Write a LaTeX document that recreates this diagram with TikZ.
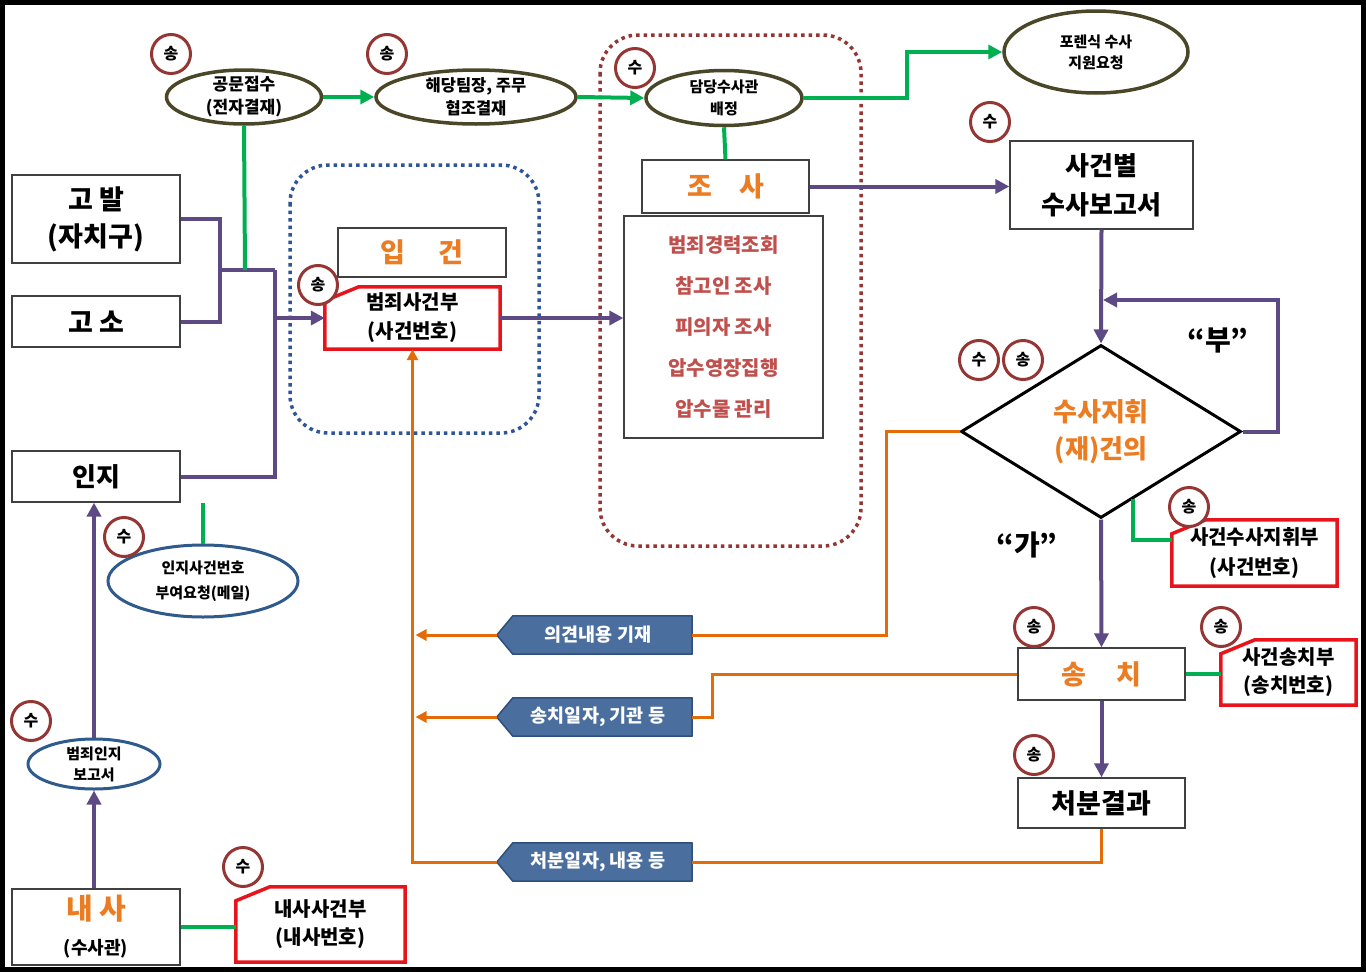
\documentclass[tikz,border=0pt]{standalone}
\usepackage{fontspec}
\setmainfont{Noto Sans CJK KR}
\usetikzlibrary{arrows.meta,calc,shapes.geometric}
\definecolor{purp}{HTML}{5D4A85}
\definecolor{grn}{HTML}{00B050}
\definecolor{orng}{HTML}{E36C09}
\definecolor{otxt}{HTML}{EC7C22}
\definecolor{lred}{HTML}{C0504D}
\definecolor{tagblue}{HTML}{4A6E9E}
\definecolor{tagedge}{HTML}{2F4F7A}
\definecolor{olive}{HTML}{4A4628}
\definecolor{eblue}{HTML}{2E5A8C}
\definecolor{mred}{HTML}{943634}
\definecolor{rbox}{HTML}{E8141B}
\definecolor{dblue}{HTML}{2E5597}
\newcommand\fsz[2]{\fontsize{#1}{#2}\selectfont}
\newcommand\rtagout[1]{\draw[redline] ($(#1.north west)+(0,14)$) -- ($(#1.north west)+(34,0)$) -- (#1.north east) -- (#1.south east) -- (#1.south west) -- cycle;}
\newcommand\btagout[1]{\draw[bluetagline] (#1.north east) -- (#1.north west) -- (#1tip) -- (#1.south west) -- (#1.south east) -- cycle;}
\tikzset{
  plainbox/.style={draw=black!75, line width=1.3pt, fill=white, inner sep=0pt, align=center, font=\bfseries\fsz{27}{37}},
  redtag/.style={draw=none, inner sep=0pt, align=center, font=\bfseries\fsz{20}{29}},
  redline/.style={draw=rbox, line width=3.5pt, fill=white, line join=miter},
  ovalolive/.style={ellipse, draw=olive, line width=3.5pt, fill=white, inner sep=0pt},
  ovalblue/.style={ellipse, draw=eblue, line width=3pt, fill=white, inner sep=0pt},
  ovaltext/.style={align=center, inner sep=0pt, font=\bfseries\fsz{15}{22}},
  bluetag/.style={draw=none, inner sep=0pt, align=center, text=white, font=\bfseries\fsz{18.5}{24}, minimum width=179, minimum height=38},
  bluetagline/.style={fill=tagblue, draw=tagedge, line width=1.5pt, line join=round},
  marker/.style={circle, draw=mred, line width=3pt, fill=white, minimum size=39, inner sep=0pt, font=\bfseries\fsz{16}{18}},
  purline/.style={draw=purp, line width=4pt, line join=miter},
  purarrow/.style={purline, -{Triangle[length=14pt,width=14pt]}},
  grline/.style={draw=grn, line width=4pt, line join=miter},
  grarrow/.style={grline, -{Triangle[length=14pt,width=14pt]}},
  orline/.style={draw=orng, line width=3pt, line join=miter},
  orarrow/.style={orline, -{Triangle[length=11pt,width=11pt]}},
  reddots/.style={draw=mred, line width=3.5pt, dash pattern=on 3.5pt off 4pt, rounded corners=38pt},
  bluedots/.style={draw=dblue, line width=3.5pt, dash pattern=on 3.5pt off 4pt, rounded corners=38pt},
}
\begin{document}
\begin{tikzpicture}[x=1pt,y=-1pt]
\fill[white] (0,0) rectangle (1366,972);
\useasboundingbox (0,0) rectangle (1366,972);

% dotted groups
\draw[reddots] (600,35) rectangle (861,546);
\draw[bluedots] (290,165) rectangle (539,433);

% left column boxes
\node[plainbox, minimum width=168, minimum height=88] (gobal) at (96,219) {고 발\\(자치구)};
\node[plainbox, minimum width=168, minimum height=51] (goso) at (96,321.5) {고 소};
\node[plainbox, minimum width=168, minimum height=51, font=\bfseries\fsz{26}{30}] (inji) at (96,476.5) {인지};
\node[plainbox, minimum width=168, minimum height=76] (naesa) at (96,927) {{\color{otxt}\fsz{29}{32}내 사}\\[-2pt]{\fsz{18}{24}(수사관)}};

% top ellipses
\node[ovalolive, minimum width=155, minimum height=54] (gongmun) at (244,97) {};
\node[ovaltext, font=\bfseries\fsz{17}{23}] (gongmunt) at (gongmun) {공문접수\\(전자결재)};
\node[ovalolive, minimum width=200, minimum height=54] (haedang) at (476,97) {};
\node[ovaltext, font=\bfseries\fsz{16.5}{23}] (haedangt) at (haedang) {해당팀장, 주무\\협조결재};
\node[ovalolive, minimum width=156, minimum height=55] (damdang) at (724,98) {};
\node[ovaltext] (damdangt) at (damdang) {담당수사관\\배정};
\node[ovalolive, minimum width=184, minimum height=82] (forensic) at (1096,52) {};
\node[ovaltext, font=\bfseries\fsz{15}{21}] (forensict) at (forensic) {포렌식 수사\\지원요청};

% blue ellipses
\node[ovalblue, minimum width=190, minimum height=72] (injireq) at (203,581) {};
\node[ovaltext, font=\bfseries\fsz{15}{25}] (injireqt) at (injireq) {인지사건번호\\부여요청(메일)};
\node[ovalblue, minimum width=132, minimum height=50] (bj) at (94,764) {};
\node[ovaltext, font=\bfseries\fsz{15}{21}] (bjt) at (bj) {범죄인지\\보고서};

% middle
\node[plainbox, minimum width=168, minimum height=49, text=otxt] (ipgeon) at (422,252.5) {입\hspace{1.2em}건};
\node[redtag, minimum width=175, minimum height=62] (crime) at (412.5,318) {};
\rtagout{crime}
\node[redtag] (crimet) at (crime) {범죄사건부\\(사건번호)};

\node[plainbox, minimum width=167, minimum height=53, text=otxt] (josa) at (725.5,186.5) {조\hspace{1em}사};
\node[plainbox, minimum width=199, minimum height=222, text=lred, font=\bfseries\fsz{20}{41}] (list) at (723.5,327) {범죄경력조회\\참고인 조사\\피의자 조사\\압수영장집행\\압수물 관리};

% right column
\node[plainbox, minimum width=183, minimum height=88, font=\bfseries\fsz{26}{39}] (report) at (1101.5,185) {사건별\\수사보고서};
\node[diamond, draw=black, line width=3pt, fill=white, minimum width=280, minimum height=173, inner sep=0pt, aspect=1.62] (dia) at (1101,431.5) {};
\node[ovaltext, text=otxt, font=\bfseries\fsz{26}{37}] (diat) at (dia) {수사지휘\\(재)건의};
\node[redtag, minimum width=165, minimum height=66] (cmd) at (1254.5,553) {};
\rtagout{cmd}
\node[redtag, font=\bfseries\fsz{20}{30}] (cmdt) at (cmd) {사건수사지휘부\\(사건번호)};
\node[plainbox, minimum width=167, minimum height=52, text=otxt] (songchi) at (1101.5,674) {송\hspace{1.1em}치};
\node[redtag, minimum width=135, minimum height=65] (songchibu) at (1288.5,672.5) {};
\rtagout{songchibu}
\node[redtag, font=\bfseries\fsz{20}{28}] (songchibut) at (songchibu) {사건송치부\\(송치번호)};
\node[plainbox, minimum width=167, minimum height=50] (result) at (1101.5,803) {처분결과};

% bottom red tag
\node[redtag, minimum width=169, minimum height=75] (naesabu) at (320.5,924.5) {};
\rtagout{naesabu}
\node[redtag, font=\bfseries\fsz{20}{28}] (naesabut) at (naesabu) {내사사건부\\(내사번호)};

% blue tags
\node[bluetag] (tagA) at (602.5,635) {};
\coordinate (tagAtip) at ($(tagA.west)+(-16,0)$);
\btagout{tagA}
\node[bluetag] (tagAt) at (598,635) {의견내용 기재};
\node[bluetag] (tagB) at (602.5,717) {};
\coordinate (tagBtip) at ($(tagB.west)+(-16,0)$);
\btagout{tagB}
\node[bluetag] (tagBt) at (598,717) {송치일자, 기관 등};
\node[bluetag] (tagC) at (602.5,862) {};
\coordinate (tagCtip) at ($(tagC.west)+(-16,0)$);
\btagout{tagC}
\node[bluetag] (tagCt) at (598,862) {처분일자, 내용 등};

% labels
\node[font=\bfseries\fsz{28}{30}] (bu) at (1218,340) {“부”};
\node[font=\bfseries\fsz{28}{30}] (ga) at (1027,545) {“가”};

% junction coordinates
\coordinate (j1) at (220,270);
\coordinate (j2) at (275,270);
\coordinate (j3) at (275,318);
\coordinate (j4) at (245,270);
\coordinate (loopend) at (1103,300);

% purple connectors
\draw[purline] (gobal.east) -| (j1) |- (goso.east);
\draw[purline] (j1) -- (j2);
\draw[purline] (j2) |- (inji.east);
\draw[purarrow] (j3) -- (crime.west);
\draw[purarrow] (crime.east) -- (crime.east -| list.west);
\draw[purarrow] (josa.east) -- (josa.east -| report.west);
\draw[purarrow] (report.south) -- (dia.north);
\draw[purarrow] (dia.east) -- ++(35,0) |- (loopend);
\draw[purarrow] (dia.south) -- (songchi.north);
\draw[purarrow] (songchi.south) -- (result.north);
\draw[purarrow] (bj.north) -- (bj.north |- inji.south);
\draw[purarrow] (naesa.north -| bj.south) -- (bj.south);

% green connectors
\draw[grarrow] (gongmun.east) -- (haedang.west);
\draw[grarrow] (haedang.east) -- (damdang.west);
\draw[grarrow] (damdang.east) -- ++(103,0) |- (forensic.west);
\draw[grline] (gongmun.south) -- (j4);
\draw[grline] (damdang.south) -- (josa.north);
\draw[grline] (injireq.north) -- (injireq.north |- inji.south);
\draw[grline] ($(dia.south)!0.2286!(dia.east)$) |- ($(cmd.west)+(0,-13)$);
\draw[grline] (songchi.east) -- (songchi.east -| songchibu.west);
\draw[grline] (naesa.east) -- (naesa.east -| naesabu.west);

% orange connectors
\draw[orline] (dia.west) -- ++(-73,0) |- (tagA.east);
\draw[orarrow] (tagAtip) -- ($(tagAtip -| crime.south)+(3,0)$);
\draw[orline] (songchi.west) -- ++(-305,0) |- (tagB.east);
\draw[orarrow] (tagBtip) -- ($(tagBtip -| crime.south)+(3,0)$);
\draw[orline] (result.south) |- (tagC.east);
\draw[orarrow] (tagCtip) -| (crime.south);

% markers
\node[marker] (m1) at (171,54) {송};
\node[marker] (m2) at (387,54) {송};
\node[marker] (m3) at (635,68) {수};
\node[marker] (m4) at (990,122) {수};
\node[marker] (m5) at (318,285) {송};
\node[marker] (m6) at (979,360) {수};
\node[marker] (m7) at (1023,360) {송};
\node[marker] (m8) at (1189,507) {송};
\node[marker] (m9) at (1034,627) {송};
\node[marker] (m10) at (1221,627) {송};
\node[marker] (m11) at (1034,755) {송};
\node[marker] (m12) at (124,537) {수};
\node[marker] (m13) at (31,721) {수};
\node[marker] (m14) at (243,867) {수};

% frame
\draw[black, line width=5pt] (2.5,2.5) rectangle (1363.5,969.5);
\end{tikzpicture}
\end{document}
